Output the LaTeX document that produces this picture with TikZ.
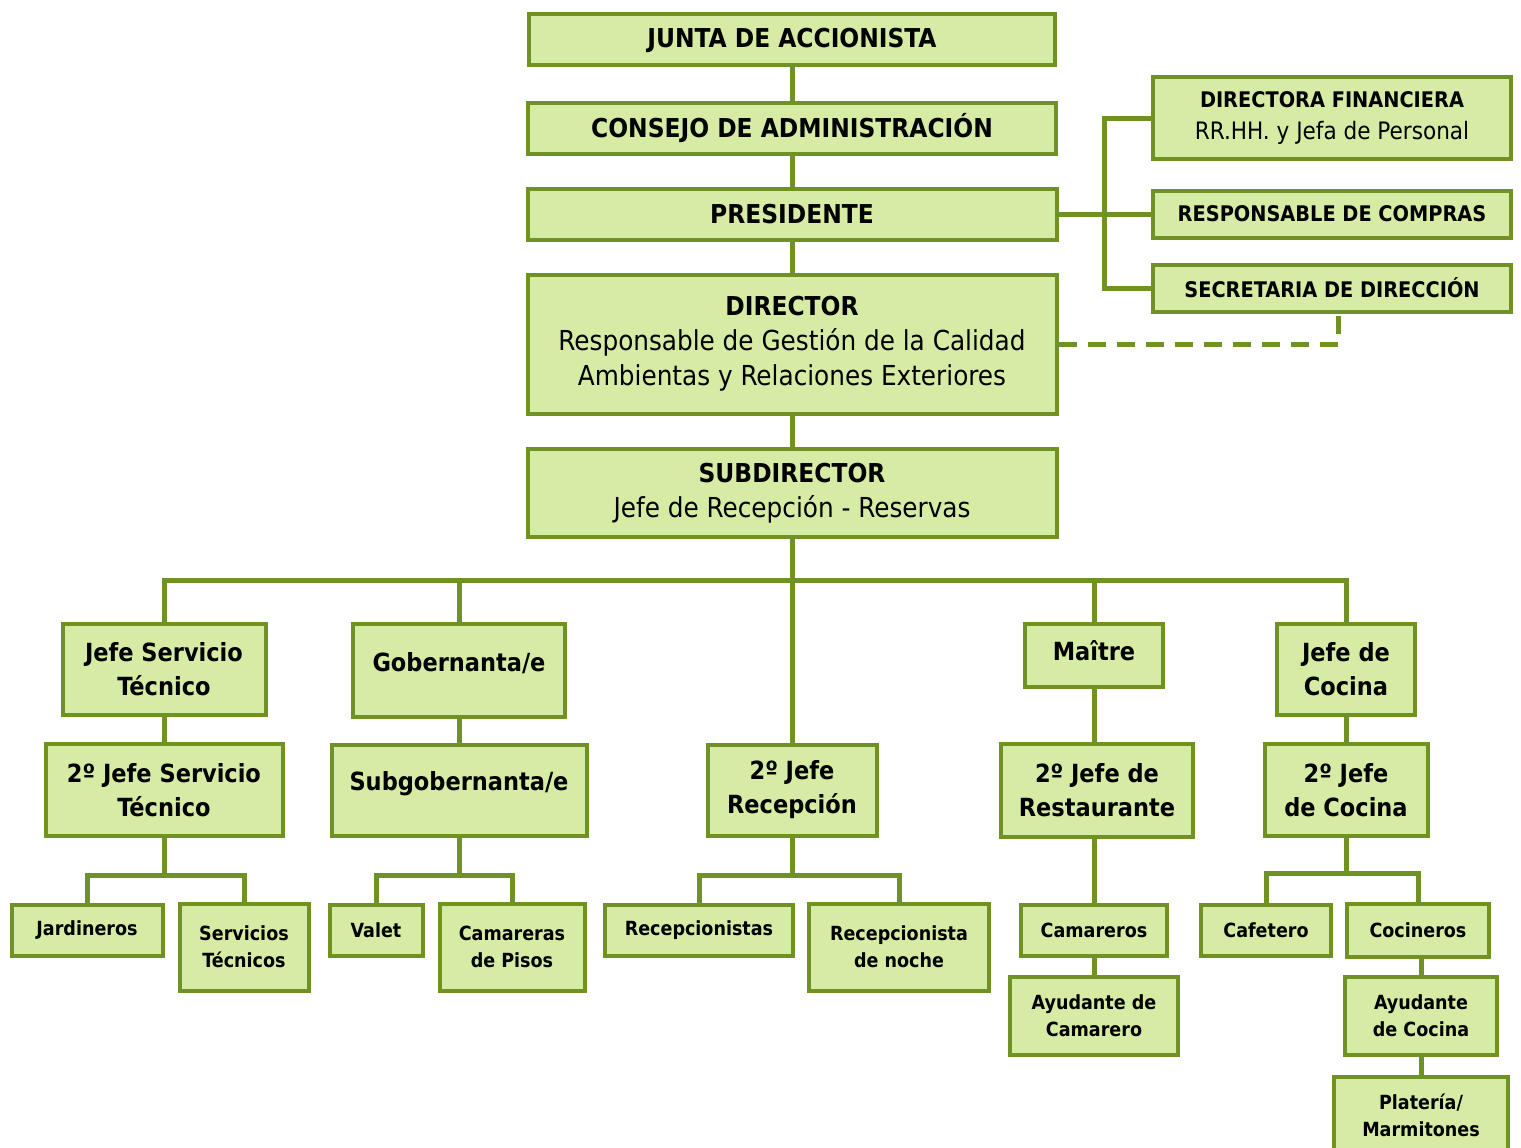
\documentclass[tikz,border=0pt]{standalone}
\usepackage{fontspec}
\setmainfont{DejaVu Sans Condensed}
\usetikzlibrary{positioning,calc}
\definecolor{orgline}{RGB}{112,146,36}
\definecolor{orgfill}{RGB}{214,236,164}

\begin{document}
\begin{tikzpicture}[x=1pt, y=-1pt,
        box/.style={draw=orgline, line width=4pt, fill=orgfill, align=center, inner sep=0pt},
        head/.style={box, font=\fontsize{26}{35}\selectfont\bfseries},
        headtxt/.style={box, font=\fontsize{27.5}{35}\selectfont},
        side/.style={box, font=\fontsize{21.5}{32}\selectfont},
        unit/.style={box, font=\fontsize{25}{34}\selectfont\bfseries},
        staff/.style={box, font=\fontsize{19.5}{27}\selectfont\bfseries},
        link/.style={draw=orgline, line width=5pt},
        dashlink/.style={link, dash pattern=on 18pt off 11pt}
    ]
        \useasboundingbox (0,0) rectangle (1521,1148);

        % Top chain
        \node[head, minimum width=526, minimum height=51] (junta) at (792,40) {JUNTA DE ACCIONISTA};
        \node[head, minimum width=528, minimum height=51] (consejo) at (792,128) {CONSEJO DE ADMINISTRACIÓN};
        \node[head, minimum width=529, minimum height=51] (pres) at (792,214) {PRESIDENTE};
        \node[headtxt, minimum width=529, minimum height=139] (dir) at (792,344) {
            {\fontsize{26}{35}\selectfont\bfseries DIRECTOR}\\
            Responsable de Gestión de la Calidad\\
            Ambientas y Relaciones Exteriores
        };
        \node[headtxt, minimum width=529, minimum height=88] (subdir) at (792,493) {
            {\fontsize{26}{35}\selectfont\bfseries SUBDIRECTOR}\\
            Jefe de Recepción - Reservas
        };

        % Staff on the right
        \node[side, minimum width=358, minimum height=81] (fin) at (1332,118) {
            \textbf{DIRECTORA FINANCIERA}\\
            {\fontsize{24}{32}\selectfont RR.HH. y Jefa de Personal}
        };
        \node[side, font=\fontsize{21.5}{32}\selectfont\bfseries, minimum width=358, minimum height=47] (compras) at (1332,214) {RESPONSABLE DE COMPRAS};
        \node[side, font=\fontsize{21.5}{32}\selectfont\bfseries, minimum width=358, minimum height=47] (secre) at (1332,288) {SECRETARIA DE DIRECCIÓN};

        % Departments
        \node[unit, minimum width=203, minimum height=91] (tec) at (164,669) {Jefe Servicio\\Técnico};
        \node[unit, minimum width=212, minimum height=93, text depth=16pt] (gob) at (459,670) {Gobernanta/e};
        \node[unit, minimum width=138, minimum height=63, text depth=9pt] (mai) at (1094,655) {Maître};
        \node[unit, minimum width=138, minimum height=91] (jcoc) at (1346,669) {Jefe de\\Cocina};

        % Second chiefs
        \node[unit, minimum width=237, minimum height=92] (tec2) at (164,790) {2º Jefe Servicio\\Técnico};
        \node[unit, minimum width=255, minimum height=91, text depth=18pt] (subgob) at (459,790) {Subgobernanta/e};
        \node[unit, minimum width=169, minimum height=91] (rec2) at (792,790) {2º Jefe\\Recepción};
        \node[unit, minimum width=192, minimum height=93] (rest2) at (1097,790) {2º Jefe de\\Restaurante};
        \node[unit, minimum width=163, minimum height=92] (coc2) at (1346,790) {2º Jefe\\de Cocina};

        % Staff
        \node[staff, minimum width=151, minimum height=51] (jard) at (87,930) {Jardineros};
        \node[staff, minimum width=129, minimum height=87] (stec) at (244,947) {Servicios\\Técnicos};
        \node[staff, minimum width=93, minimum height=51] (valet) at (376,930) {Valet};
        \node[staff, minimum width=145, minimum height=87] (pisos) at (512,947) {Camareras\\de Pisos};
        \node[staff, minimum width=188, minimum height=51] (recs) at (699,930) {Recepcionistas};
        \node[staff, minimum width=180, minimum height=87] (noche) at (899,947) {Recepcionista\\de noche};
        \node[staff, minimum width=146, minimum height=51] (cam) at (1094,930) {Camareros};
        \node[staff, minimum width=168, minimum height=78] (ayc) at (1094,1016) {Ayudante de\\Camarero};
        \node[staff, minimum width=130, minimum height=51] (cafe) at (1266,930) {Cafetero};
        \node[staff, minimum width=142, minimum height=53] (cocin) at (1418,930) {Cocineros};
        \node[staff, minimum width=152, minimum height=78] (aycoc) at (1421,1016) {Ayudante\\de Cocina};
        \node[staff, minimum width=174, minimum height=77, anchor=north] (plat) at (1421,1075) {Platería/\\Marmitones};

        % Links, top chain
        \draw[link] (junta) -- (consejo);
        \draw[link] (consejo) -- (pres);
        \draw[link] (pres) -- (dir);
        \draw[link] (dir) -- (subdir);

        % Links, staff bracket
        \coordinate (brk) at (1104,214);
        \draw[link] (pres) -- (compras);
        \draw[link] (fin.west) -| (brk) |- (secre.west);
        \draw[dashlink] (dir.east) -| ([xshift=6pt]secre.south);

        % Links, department bus
        \coordinate (bus) at (792,580);
        \draw[link] (subdir) -- (rec2);
        \draw[link] (tec.north) |- (bus) -| (jcoc.north);
        \draw[link] (gob) -- (gob |- bus);
        \draw[link] (mai) -- (mai |- bus);

        % Links, down each department
        \draw[link] (tec) -- (tec2);
        \draw[link] (gob) -- (subgob);
        \draw[link] (mai) -- (mai |- rest2.north);
        \draw[link] (jcoc) -- (coc2);

        \coordinate (b1) at (164,875);
        \draw[link] (tec2) -- (b1);
        \draw[link] (jard.north) |- (b1) -| (stec.north);

        \coordinate (b2) at (459,875);
        \draw[link] (subgob) -- (b2);
        \draw[link] (valet.north) |- (b2) -| (pisos.north);

        \coordinate (b3) at (792,875);
        \draw[link] (rec2) -- (b3);
        \draw[link] (recs.north) |- (b3) -| (noche.north);

        \draw[link] (cam) -- (cam |- rest2.south);
        \draw[link] (cam) -- (ayc);

        \coordinate (b5) at (1346,873);
        \draw[link] (coc2) -- (b5);
        \draw[link] (cafe.north) |- (b5) -| (cocin.north);
        \draw[link] (cocin.south -| aycoc) -- (aycoc);
        \draw[link] (aycoc) -- (plat);
    \end{tikzpicture}
\end{document}
